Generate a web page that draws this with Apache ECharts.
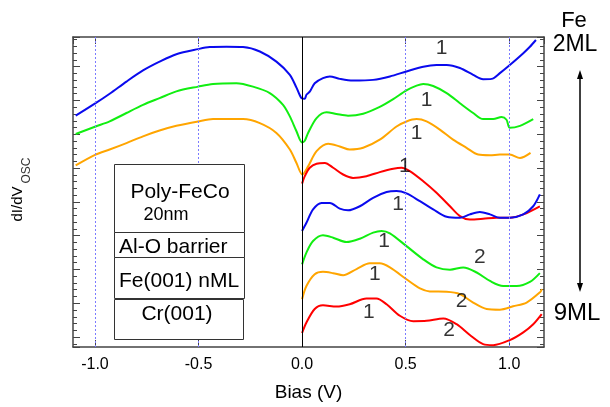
<!DOCTYPE html>
<html>
<head>
<meta charset="utf-8">
<script src="https://cdn.jsdelivr.net/npm/echarts@6/dist/echarts.min.js"></script>
<style>
html,body{margin:0;padding:0;background:#fff;}
#c{width:610px;height:407px;}
</style>
</head>
<body>
<div id="c"></div>
<script>
// Bias (V) vs dI/dV (offset, arb. units)
const blue1 = [[-1.093,6.55],[-0.997,6.92],[-0.929,7.20],[-0.848,7.56],[-0.768,7.89],[-0.688,8.15],[-0.607,8.37],[-0.502,8.52],[-0.446,8.58],[-0.365,8.59],[-0.285,8.58],[-0.204,8.45],[-0.124,8.15],[-0.059,7.76],[-0.027,7.38],[-0.003,7.07],[0.013,7.05],[0.021,7.17],[0.037,7.26],[0.061,7.51],[0.101,7.66],[0.134,7.71],[0.182,7.64],[0.246,7.59],[0.343,7.61],[0.424,7.71],[0.504,7.86],[0.585,8.00],[0.649,8.05],[0.698,8.05],[0.762,7.96],[0.826,7.76],[0.874,7.63],[0.915,7.64],[0.955,7.81],[1.003,8.05],[1.068,8.40],[1.100,8.59],[1.129,8.79]];
const green2 = [[-1.093,6.01],[-0.997,6.23],[-0.929,6.38],[-0.848,6.63],[-0.768,6.87],[-0.688,7.07],[-0.607,7.27],[-0.502,7.41],[-0.430,7.49],[-0.317,7.51],[-0.237,7.41],[-0.156,7.22],[-0.092,6.87],[-0.059,6.53],[-0.027,6.09],[0.000,5.76],[0.013,5.81],[0.029,6.04],[0.070,6.48],[0.118,6.65],[0.166,6.60],[0.222,6.55],[0.295,6.61],[0.375,6.81],[0.440,7.04],[0.504,7.30],[0.553,7.44],[0.585,7.49],[0.633,7.43],[0.698,7.22],[0.762,6.92],[0.826,6.63],[0.874,6.45],[0.923,6.45],[0.963,6.51],[0.987,6.43],[1.003,6.19],[1.052,6.25],[1.116,6.45]];
const orange3 = [[-1.093,5.08],[-0.997,5.40],[-0.929,5.55],[-0.848,5.74],[-0.768,5.94],[-0.688,6.11],[-0.607,6.25],[-0.502,6.38],[-0.430,6.45],[-0.285,6.45],[-0.204,6.33],[-0.124,6.04],[-0.059,5.55],[-0.027,5.15],[0.001,4.81],[0.029,5.05],[0.070,5.50],[0.126,5.72],[0.182,5.64],[0.230,5.55],[0.295,5.60],[0.375,5.84],[0.456,6.23],[0.504,6.38],[0.553,6.45],[0.601,6.38],[0.665,6.14],[0.729,5.84],[0.794,5.60],[0.850,5.40],[0.907,5.38],[0.955,5.40],[1.003,5.40],[1.052,5.30],[1.103,5.45]];
const red4 = [[0.000,4.54],[0.013,4.76],[0.037,5.01],[0.070,5.13],[0.110,5.15],[0.150,5.01],[0.198,4.81],[0.246,4.71],[0.311,4.76],[0.375,4.88],[0.440,4.98],[0.480,5.01],[0.520,4.91],[0.585,4.61],[0.649,4.27],[0.714,3.87],[0.762,3.58],[0.810,3.48],[0.874,3.50],[0.939,3.53],[1.003,3.53],[1.068,3.63],[1.148,3.87]];
const blue5 = [[0.000,3.14],[0.021,3.38],[0.053,3.78],[0.094,3.97],[0.134,3.97],[0.182,3.80],[0.222,3.75],[0.279,3.87],[0.343,4.12],[0.408,4.29],[0.456,4.32],[0.504,4.25],[0.569,4.02],[0.633,3.78],[0.698,3.56],[0.762,3.53],[0.810,3.63],[0.858,3.70],[0.907,3.63],[0.955,3.53],[1.003,3.53],[1.068,3.63],[1.116,3.87],[1.148,4.22]];
const green6 = [[0.000,2.15],[0.021,2.50],[0.053,2.84],[0.101,3.01],[0.150,2.94],[0.214,2.81],[0.279,2.91],[0.343,3.09],[0.384,3.14],[0.424,3.07],[0.504,2.69],[0.585,2.30],[0.649,2.06],[0.714,1.99],[0.778,2.06],[0.843,1.91],[0.907,1.66],[0.971,1.51],[1.036,1.51],[1.100,1.63],[1.148,1.89]];
const orange7 = [[0.000,1.12],[0.021,1.51],[0.061,1.86],[0.101,1.93],[0.150,1.89],[0.198,1.83],[0.263,2.01],[0.327,2.18],[0.375,2.18],[0.424,2.06],[0.504,1.71],[0.569,1.44],[0.617,1.35],[0.698,1.34],[0.762,1.27],[0.826,1.02],[0.891,0.83],[0.955,0.81],[1.019,0.91],[1.084,1.02],[1.148,1.32],[1.158,1.42]];
const red8 = [[0.000,0.12],[0.021,0.43],[0.061,0.83],[0.101,0.94],[0.166,0.90],[0.230,0.97],[0.311,1.14],[0.359,1.14],[0.408,0.97],[0.472,0.63],[0.537,0.47],[0.601,0.48],[0.682,0.55],[0.746,0.38],[0.810,0.06],[0.874,-0.21],[0.923,-0.24],[1.003,-0.09],[1.068,0.14],[1.116,0.38],[1.157,0.68]];

const peakText = ['1','1','1','1','1','1','2','1','2','1','2'];
const peakX = [0.673,0.601,0.553,0.496,0.464,0.396,0.858,0.351,0.770,0.322,0.710];
const peakY = [8.55,7.02,6.04,5.06,3.92,2.84,2.35,1.86,1.07,0.73,0.19];

const dottedX = [-1.0,-0.5,0.5,1.0];
const solidX = [0.0];

const xMin = -1.106, xMax = 1.168;
const yMin = -0.295, yMax = 8.879;

const curves = [
  {d: blue1, c: '#0a0aee'},
  {d: green2, c: '#11ee11'},
  {d: orange3, c: '#ffa500'},
  {d: red4, c: '#ff0000'},
  {d: blue5, c: '#0a0aee'},
  {d: green6, c: '#11ee11'},
  {d: orange7, c: '#ffa500'},
  {d: red8, c: '#ff0000'}
];

const FONT = 'Liberation Sans, Arial, sans-serif';
const axisCol = '#444';

const chart = echarts.init(document.getElementById('c'), null, {renderer: 'canvas'});

const series = curves.map((cv, i) => ({
  type: 'line', data: cv.d, xAxisIndex: 0, yAxisIndex: 0,
  showSymbol: false, smooth: 0.3, z: 3,
  lineStyle: {color: cv.c, width: 2}, animation: false
}));

series.unshift({
  type: 'line', data: [], xAxisIndex: 0, yAxisIndex: 0, z: 1, animation: false,
  markLine: {
    silent: true, symbol: 'none', animation: false,
    label: {show: false},
    data: dottedX.map(v => ({xAxis: v, lineStyle: {color: '#7b7bff', type: [2, 2], width: 1}}))
      .concat(solidX.map(v => ({xAxis: v, lineStyle: {color: '#000', type: 'solid', width: 1}})))
  }
});

series.push({
  type: 'scatter', xAxisIndex: 0, yAxisIndex: 0, symbolSize: 1, z: 5, animation: false,
  itemStyle: {color: 'rgba(0,0,0,0)'},
  data: peakText.map((t, i) => ({value: [peakX[i], peakY[i]], name: t})),
  label: {show: true, position: 'inside', formatter: p => p.name,
    fontFamily: FONT, fontSize: 21, color: '#000'}
});

const tickCommon = {inside: true, length: 7, lineStyle: {color: axisCol, width: 1}};

const option = {
  backgroundColor: '#fff',
  animation: false,
  grid: {left: 73, right: 66, top: 37, bottom: 59, containLabel: false},
  xAxis: [
    {type: 'value', min: xMin, max: xMax, splitNumber: 5, position: 'bottom',
     axisLine: {show: true, onZero: false, lineStyle: {color: axisCol, width: 1.5}},
     axisTick: tickCommon,
     splitLine: {show: false},
     axisLabel: {show: true, showMinLabel: false, showMaxLabel: false, fontFamily: FONT, fontSize: 16, color: '#000', margin: 10,
       formatter: v => (Math.abs(v) < 1e-9 ? 0 : v).toFixed(1)},
     name: 'Bias (V)', nameLocation: 'middle', nameGap: 36,
     nameTextStyle: {fontFamily: FONT, fontSize: 19, color: '#000'}
    },
    {type: 'value', min: xMin, max: xMax, splitNumber: 5, position: 'top',
     axisLine: {show: true, onZero: false, lineStyle: {color: axisCol, width: 1.5}},
     axisTick: tickCommon, splitLine: {show: false}, axisLabel: {show: false}}
  ],
  yAxis: [
    {type: 'value', min: yMin, max: yMax, splitNumber: 9, position: 'left',
     axisLine: {show: true, onZero: false, lineStyle: {color: axisCol, width: 1.5}},
     axisTick: tickCommon,
     minorTick: {show: true, splitNumber: 5, length: 4, lineStyle: {color: axisCol, width: 1}},
     splitLine: {show: false}, minorSplitLine: {show: false}, axisLabel: {show: false}},
    {type: 'value', min: yMin, max: yMax, splitNumber: 9, position: 'right',
     axisLine: {show: true, onZero: false, lineStyle: {color: axisCol, width: 1.5}},
     axisTick: tickCommon,
     minorTick: {show: true, splitNumber: 5, length: 4, lineStyle: {color: axisCol, width: 1}},
     splitLine: {show: false}, minorSplitLine: {show: false}, axisLabel: {show: false}}
  ],
  series: series,
  graphic: [
    // layered structure box
    {type: 'rect', shape: {x: 114.5, y: 164.5, width: 130, height: 68}, style: {fill: '#fff', stroke: '#333', lineWidth: 1}, z: 10},
    {type: 'rect', shape: {x: 114.5, y: 232.5, width: 130, height: 25}, style: {fill: '#fff', stroke: '#333', lineWidth: 1}, z: 10},
    {type: 'rect', shape: {x: 114.5, y: 257.5, width: 130, height: 41}, style: {fill: '#fff', stroke: '#333', lineWidth: 1}, z: 10},
    {type: 'rect', shape: {x: 114.5, y: 299.5, width: 129, height: 40}, style: {fill: '#fff', stroke: '#333', lineWidth: 1}, z: 10},
    {type: 'text', x: 180, y: 192, z: 11, style: {text: 'Poly-FeCo', font: '21px ' + FONT, fill: '#000', align: 'center', verticalAlign: 'middle'}},
    {type: 'text', x: 166, y: 215, z: 11, style: {text: '20nm', font: '18px ' + FONT, fill: '#000', align: 'center', verticalAlign: 'middle'}},
    {type: 'text', x: 119, y: 247, z: 11, style: {text: 'Al-O barrier', font: '21px ' + FONT, fill: '#000', align: 'left', verticalAlign: 'middle'}},
    {type: 'text', x: 119, y: 281, z: 11, style: {text: 'Fe(001) nML', font: '21px ' + FONT, fill: '#000', align: 'left', verticalAlign: 'middle'}},
    {type: 'text', x: 177, y: 314, z: 11, style: {text: 'Cr(001)', font: '21px ' + FONT, fill: '#000', align: 'center', verticalAlign: 'middle'}},
    // y axis title
    {type: 'text', x: 18, y: 204, rotation: Math.PI / 2, z: 11, style: {text: 'dI/dV', font: '15px ' + FONT, fill: '#000', align: 'center', verticalAlign: 'middle'}},
    {type: 'text', x: 26.5, y: 170.5, rotation: Math.PI / 2, z: 11, style: {text: 'OSC', font: '12px ' + FONT, fill: '#333', align: 'center', verticalAlign: 'middle'}},
    // right side annotation
    {type: 'text', x: 574, y: 21, z: 11, style: {text: 'Fe', font: '22px ' + FONT, fill: '#000', align: 'center', verticalAlign: 'middle'}},
    {type: 'text', x: 575, y: 45, z: 11, style: {text: '2ML', font: '23px ' + FONT, fill: '#000', align: 'center', verticalAlign: 'middle'}},
    {type: 'text', x: 577, y: 313, z: 11, style: {text: '9ML', font: '24px ' + FONT, fill: '#000', align: 'center', verticalAlign: 'middle'}},
    {type: 'line', shape: {x1: 580, y1: 76, x2: 580, y2: 286}, style: {stroke: '#000', lineWidth: 1.5}, z: 11},
    {type: 'polygon', shape: {points: [[580, 70], [577, 79], [583, 79]]}, style: {fill: '#000'}, z: 11},
    {type: 'polygon', shape: {points: [[580, 292], [577, 283], [583, 283]]}, style: {fill: '#000'}, z: 11}
  ]
};

chart.setOption(option);
</script>
</body>
</html>
